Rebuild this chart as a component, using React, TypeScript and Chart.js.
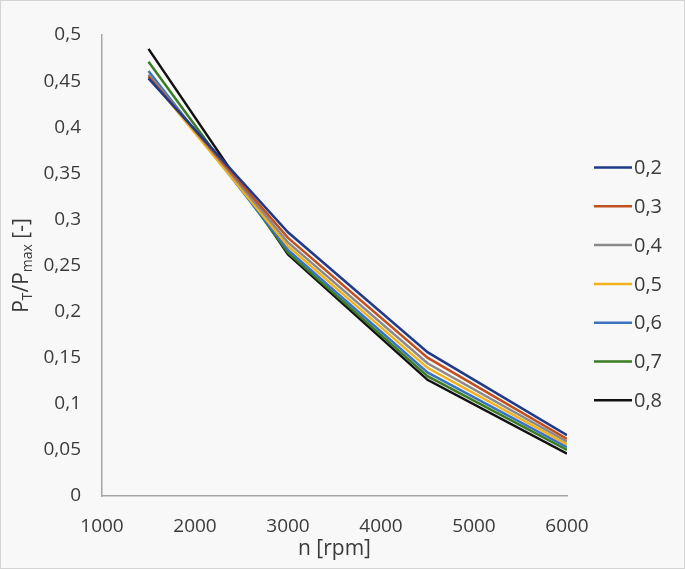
import React, { useEffect, useRef } from 'react';
import { Chart, registerables } from 'chart.js';

Chart.register(...registerables);

const rpm = [1500, 3000, 4500, 6000];
const seriesLabels = ['0,2', '0,3', '0,4', '0,5', '0,6', '0,7', '0,8'];
const s02 = [0.453, 0.286, 0.156, 0.066];
const s03 = [0.455, 0.280, 0.150, 0.062];
const s04 = [0.457, 0.275, 0.144, 0.059];
const s05 = [0.455, 0.271, 0.139, 0.056];
const s06 = [0.461, 0.267, 0.134, 0.053];
const s07 = [0.471, 0.264, 0.130, 0.050];
const s08 = [0.485, 0.262, 0.126, 0.046];
const seriesValues = [s02, s03, s04, s05, s06, s07, s08];
const seriesColors = ['#1f3a8a', '#c0501f', '#8a8a8a', '#f2b21a', '#3a73bf', '#3a7d23', '#111111'];

const xTitle = 'n [rpm]';
const yTitleParts = [
  { t: 'P', sub: false },
  { t: 'T', sub: true },
  { t: '/P', sub: false },
  { t: 'max', sub: true },
  { t: ' [-]', sub: false },
];

const FONT = '"Open Sans", "DejaVu Sans", sans-serif';
const TEXT = '#3a3a3a';

const decorPlugin = {
  id: 'decor',
  beforeDraw(chart: any) {
    const { ctx, width, height } = chart;
    ctx.save();
    ctx.fillStyle = '#f8f8f8';
    ctx.fillRect(0, 0, width, height);
    ctx.strokeStyle = '#d4d4d4';
    ctx.lineWidth = 1;
    ctx.strokeRect(0.5, 0.5, width - 1, height - 1);
    ctx.restore();
  },
  afterDraw(chart: any) {
    const { ctx, chartArea } = chart;
    ctx.save();
    // x title
    ctx.fillStyle = TEXT;
    ctx.font = `21px ${FONT}`;
    ctx.textAlign = 'center';
    ctx.textBaseline = 'middle';
    ctx.fillText(xTitle, (chartArea.left + chartArea.right) / 2, 549);

    // y title (rotated, with subscripts)
    const big = `21px ${FONT}`;
    const small = `14px ${FONT}`;
    let total = 0;
    const widths = yTitleParts.map((p) => {
      ctx.font = p.sub ? small : big;
      const w = ctx.measureText(p.t).width;
      total += w;
      return w;
    });
    ctx.translate(20, (chartArea.top + chartArea.bottom) / 2);
    ctx.rotate(-Math.PI / 2);
    ctx.textAlign = 'left';
    ctx.textBaseline = 'alphabetic';
    let x = -total / 2;
    yTitleParts.forEach((p, i) => {
      ctx.font = p.sub ? small : big;
      ctx.fillText(p.t, x, p.sub ? 12 : 8);
      x += widths[i];
    });
    ctx.restore();

    // legend
    ctx.save();
    const lx0 = 594;
    const lx1 = 632;
    const ly0 = 167.5;
    const step = 38.8;
    chart.data.datasets.forEach((ds: any, i: number) => {
      const y = ly0 + i * step;
      ctx.strokeStyle = ds.borderColor;
      ctx.lineWidth = 2.5;
      ctx.beginPath();
      ctx.moveTo(lx0, y);
      ctx.lineTo(lx1, y);
      ctx.stroke();
      ctx.fillStyle = TEXT;
      ctx.font = `20px ${FONT}`;
      ctx.textAlign = 'left';
      ctx.textBaseline = 'middle';
      ctx.fillText(ds.label, lx1 + 2, y + 1);
    });
    ctx.restore();
  },
};

export default function App() {
  const ref = useRef<HTMLCanvasElement | null>(null);
  useEffect(() => {
    document.body.style.margin = '0';
    const canvas = ref.current;
    if (!canvas) return;
    const chart = new Chart(canvas, {
      type: 'line',
      data: {
        datasets: seriesLabels.map((label, i) => ({
          label,
          data: rpm.map((x, j) => ({ x, y: seriesValues[i][j] })),
          borderColor: seriesColors[i],
          backgroundColor: seriesColors[i],
          borderWidth: 2.5,
          pointRadius: 0,
          tension: 0,
          fill: false,
        })),
      },
      options: {
        responsive: false,
        animation: false,
        layout: { padding: { top: 35, right: 118, left: 0, bottom: 0 } },
        plugins: { legend: { display: false }, tooltip: { enabled: false } },
        scales: {
          x: {
            type: 'linear',
            min: 1000,
            max: 6000,
            afterFit: (s: any) => {
              s.height = 73;
            },
            grid: { display: false, drawTicks: false },
            border: { display: true, color: '#a6a6a6', width: 1.5 },
            ticks: {
              stepSize: 1000,
              padding: 19,
              color: TEXT,
              font: { family: FONT, size: 19 },
              maxRotation: 0,
              callback: (v: any) => String(v),
            },
          },
          y: {
            type: 'linear',
            min: 0,
            max: 0.5,
            afterFit: (s: any) => {
              s.width = 102;
            },
            grid: { display: false, drawTicks: false },
            border: { display: true, color: '#a6a6a6', width: 1.5 },
            ticks: {
              stepSize: 0.05,
              padding: 21,
              color: TEXT,
              font: { family: FONT, size: 19 },
              callback: (v: any) => String(Math.round(Number(v) * 100) / 100).replace('.', ','),
            },
          },
        },
      },
      plugins: [decorPlugin],
    });
    return () => chart.destroy();
  }, []);
  return (
    <div style={{ position: 'absolute', left: 0, top: 0, width: 685, height: 569 }}>
      <canvas ref={ref} width={685} height={569} style={{ display: 'block' }} />
    </div>
  );
}
